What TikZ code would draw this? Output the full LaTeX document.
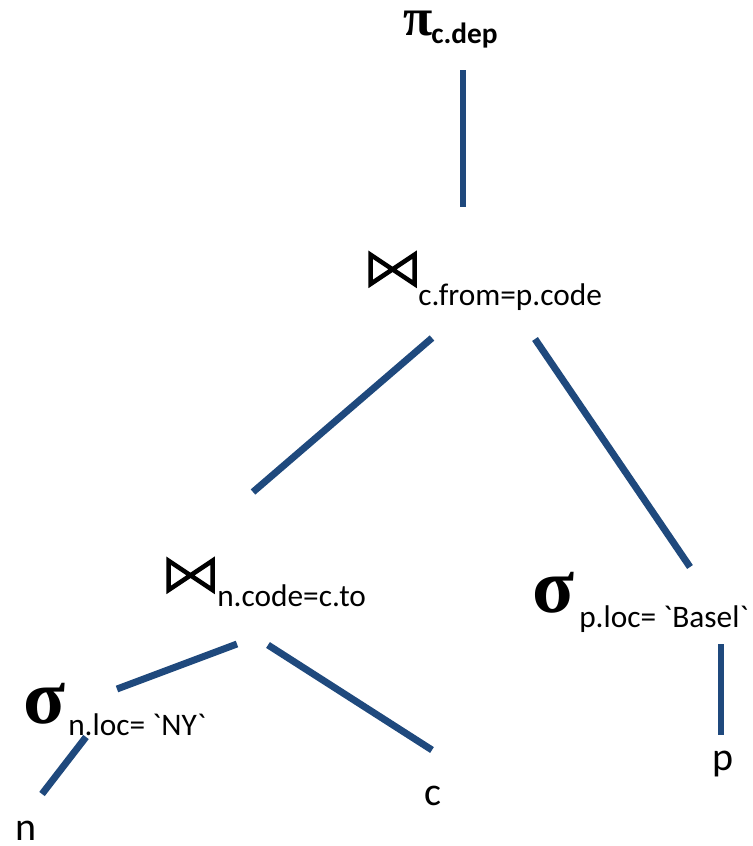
\documentclass[tikz,border=0pt]{standalone}
\usepackage{fontspec}
\setmainfont{Carlito}
% plain family: keeps the grave accent ` as it is typed
\newfontfamily\condfont{Carlito}
\newfontfamily\greekfont{Liberation Serif}
\definecolor{edgeblue}{RGB}{31,73,125}

% join symbol: two outlined triangles meeting at their tips
\newcommand\joinsym{\tikz[baseline=0pt]\draw[line width=3.4pt, line join=miter, miter limit=4]
  (0pt,0pt) -- (0pt,22pt) -- (33pt,0pt) -- (33pt,22pt) -- cycle;}

\begin{document}
\begin{tikzpicture}[x=0.75pt, y=-0.75pt,
  edge/.style={draw=edgeblue, line width=5.2pt},
  sym/.style={anchor=base west, inner sep=0pt},
  greek/.style={sym, font=\greekfont\bfseries\fontsize{58}{62}\selectfont},
  cond/.style={anchor=base west, inner sep=0pt, font=\condfont\fontsize{23.5}{28}\selectfont},
  leaf/.style={anchor=base, inner sep=0pt, text depth=0pt, font=\fontsize{30}{34}\selectfont}]
\useasboundingbox (0,0) rectangle (753,846);

% operators and their conditions
\node[sym, text height=18pt, font=\greekfont\bfseries\fontsize{40}{44}\selectfont] (proj) at (403,35) {π};
\node[anchor=base west, inner sep=0pt, font=\bfseries\fontsize{22}{26}\selectfont] (projc) at (431,43) {c.dep};

\node[sym] (joinA) at (368,284) {\joinsym};
\node[cond] (joinAc) at (418,305) {c.from=p.code};

\node[sym] (joinB) at (166,590) {\joinsym};
\node[cond] (joinBc) at (217,606) {n.code=c.to};

\node[greek] (selP) at (532,612) {σ};
\node[cond] (selPc) at (579,627) {p.loc= `Basel`};

\node[greek] (selN) at (23,723) {σ};
\node[cond] (selNc) at (68,735) {n.loc= `NY`};

% base relations
\node[leaf] (relN) at (26,840) {n};
\node[leaf] (relC) at (433,805) {c};
\node[leaf] (relP) at (723,770) {p};

% end points of the tree edges
\coordinate (projS) at (463,70);
\coordinate (joinAN) at (463,207);
\coordinate (joinASW) at (432,338);
\coordinate (joinBN) at (253,492);
\coordinate (joinASE) at (535,339);
\coordinate (selPN) at (690,567);
\coordinate (selPS) at (721,644);
\coordinate (relPN) at (721,735);
\coordinate (joinBSW) at (237,644);
\coordinate (selNN) at (117,689);
\coordinate (joinBSE) at (268,645);
\coordinate (relCN) at (432,750);
\coordinate (selNS) at (86,737);
\coordinate (relNN) at (42,794);

\draw[edge] (projS) -- (joinAN);
\draw[edge] (joinASW) -- (joinBN);
\draw[edge] (joinASE) -- (selPN);
\draw[edge] (selPS) -- (relPN);
\draw[edge] (joinBSW) -- (selNN);
\draw[edge] (joinBSE) -- (relCN);
\draw[edge] (selNS) -- (relNN);
\end{tikzpicture}
\end{document}
